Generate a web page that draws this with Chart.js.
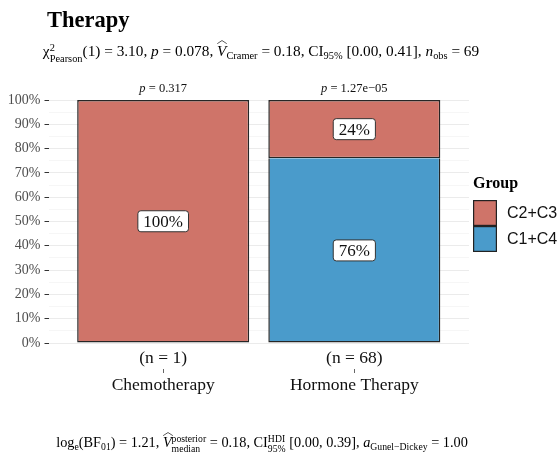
<!DOCTYPE html>
<html>
<head>
<meta charset="utf-8">
<script src="https://cdn.jsdelivr.net/npm/chart.js@4.4.1/dist/chart.umd.min.js"></script>
<style>
  html, body { margin: 0; padding: 0; background: #fff; }
  #wrap { position: relative; width: 559px; height: 456px; overflow: hidden;
          font-family: "Liberation Serif", "Times New Roman", serif; color: #000; }
  #wrap canvas { position: absolute; left: 0; top: 0; }
  .txt { position: absolute; white-space: nowrap; }
  #title { left: 47px; top: 9px; font-size: 22.5px; font-weight: bold; line-height: 1; }
  #sub { left: 0; width: 522px; text-align: center; top: 43px; font-size: 15.3px; line-height: 1; }
  #cap { left: 0; width: 524px; text-align: center; top: 434px; font-size: 14.3px; line-height: 1; }
  .ss { display: inline-flex; flex-direction: column; font-size: 0.68em; line-height: 1.05;
        vertical-align: 0.5em; text-align: left; }
  .sb { font-size: 0.68em; vertical-align: -0.28em; }
  i { font-style: italic; }
  .hat { position: relative; display: inline-block; font-style: italic; }
  .hat::before { content: ""; position: absolute; left: 0; right: -1px; top: -0.2em; height: 0.28em;
                 background: url("data:image/svg+xml;utf8,<svg xmlns='http://www.w3.org/2000/svg' viewBox='0 0 20 6' preserveAspectRatio='none'><polyline points='0.5,5.5 10,0.8 19.5,5.5' fill='none' stroke='black' stroke-width='1.1'/></svg>") no-repeat center / 100% 100%; }
</style>
</head>
<body>
<div id="wrap">
  <canvas id="c" width="559" height="456"></canvas>
  <div class="txt" id="title">Therapy</div>
  <div class="txt" id="sub">χ<span class="ss"><span>2</span><span>Pearson</span></span>(1) = 3.10, <i>p</i> = 0.078, <span class="hat">V</span><span class="sb">Cramer</span> = 0.18, CI<span class="sb">95%</span> [0.00, 0.41], <i>n</i><span class="sb">obs</span> = 69</div>
  <div class="txt" id="cap">log<span class="sb">e</span>(BF<span class="sb">01</span>) = 1.21, <span class="hat">V</span><span class="ss"><span>posterior</span><span>median</span></span> = 0.18, CI<span class="ss"><span>HDI</span><span>95%</span></span> [0.00, 0.39], <i>a</i><span class="sb">Gunel−Dickey</span> = 1.00</div>
</div>
<script>
// Categories on the x axis, with their group sizes and per-bar test results
const therapies = ['Chemotherapy', 'Hormone Therapy'];
const groupSizes = [1, 68];
const barPValues = ['0.317', '1.27e−05'];

// Percentage of each group within a therapy (stack order: bottom first)
const groups = ['C1+C4', 'C2+C3'];
const pctC1C4 = [0, 76];
const pctC2C3 = [100, 24];

// Y axis tick values (percent)
const yTicks = [0, 10, 20, 30, 40, 50, 60, 70, 80, 90, 100];

const RED = '#CF7469';
const BLUE = '#4A9BCB';
const SERIF = '"Liberation Serif", "Times New Roman", serif';

const xPos = therapies.map((_, i) => i + 1);
const toPoints = arr => arr.map((v, i) => ({ x: xPos[i], y: v }));

// Draws the percentage boxes, the per-bar p values and the group sizes
const annotations = {
  id: 'annotations',
  afterDatasetsDraw(chart) {
    const ctx = chart.ctx;
    const area = chart.chartArea;
    const xs = chart.scales.x;
    ctx.save();
    chart.data.datasets.forEach((ds, di) => {
      const meta = chart.getDatasetMeta(di);
      meta.data.forEach((bar, i) => {
        const v = ds.data[i].y;
        if (!v) return;
        const cy = (bar.y + bar.base) / 2;
        const label = v + '%';
        ctx.font = '17px ' + SERIF;
        const w = ctx.measureText(label).width + 11;
        const h = 21;
        ctx.beginPath();
        ctx.roundRect(bar.x - w / 2, cy - h / 2, w, h, 3);
        ctx.fillStyle = '#fff';
        ctx.fill();
        ctx.lineWidth = 1;
        ctx.strokeStyle = '#333';
        ctx.stroke();
        ctx.fillStyle = '#111';
        ctx.textAlign = 'center';
        ctx.textBaseline = 'middle';
        ctx.fillText(label, bar.x, cy + 1);
      });
    });

    therapies.forEach((t, i) => {
      const x = xs.getPixelForValue(xPos[i]);
      // p value above the bar
      ctx.textBaseline = 'alphabetic';
      ctx.textAlign = 'left';
      ctx.font = 'italic 12.5px ' + SERIF;
      const pw = ctx.measureText('p').width;
      ctx.font = '12.5px ' + SERIF;
      const rest = ' = ' + barPValues[i];
      const rw = ctx.measureText(rest).width;
      const x0 = x - (pw + rw) / 2;
      ctx.fillStyle = '#111';
      ctx.font = 'italic 12.5px ' + SERIF;
      ctx.fillText('p', x0, area.top - 8.5);
      ctx.font = '12.5px ' + SERIF;
      ctx.fillText(rest, x0 + pw, area.top - 8.5);

      // group size below the bar
      ctx.textAlign = 'center';
      ctx.font = '17.5px ' + SERIF;
      ctx.fillText('(n = ' + groupSizes[i] + ')', x, area.bottom + 20);

      // small axis tick between the two label lines
      ctx.strokeStyle = '#666';
      ctx.lineWidth = 1;
      ctx.beginPath();
      ctx.moveTo(Math.round(x) + 0.5, area.bottom + 26);
      ctx.lineTo(Math.round(x) + 0.5, area.bottom + 30);
      ctx.stroke();
    });
    ctx.restore();
  }
};

// Legend on the right: title and square keys
const groupLegend = {
  id: 'groupLegend',
  afterDraw(chart) {
    const ctx = chart.ctx;
    const area = chart.chartArea;
    const x = area.right + 4;
    ctx.save();
    ctx.fillStyle = '#000';
    ctx.textAlign = 'left';
    ctx.textBaseline = 'alphabetic';
    ctx.font = 'bold 16px ' + SERIF;
    ctx.fillText('Group', x, 188);
    const items = [
      { label: groups[1], color: RED },
      { label: groups[0], color: BLUE }
    ];
    items.forEach((it, k) => {
      const y = 200 + k * 26;
      ctx.fillStyle = it.color;
      ctx.fillRect(x, y, 24, 26);
      ctx.strokeStyle = '#222';
      ctx.lineWidth = 1.2;
      ctx.strokeRect(x + 0.6, y + 0.6, 22.8, 24.8);
      ctx.fillStyle = '#111';
      ctx.textBaseline = 'middle';
      ctx.font = '16px "Liberation Sans", Arial, sans-serif';
      ctx.fillText(it.label, x + 34, y + 13.5);
    });
    ctx.restore();
  }
};

new Chart(document.getElementById('c'), {
  type: 'bar',
  data: {
    datasets: [
      // top edge left to the segment stacked above, so the join is a single line
      { label: groups[0], data: toPoints(pctC1C4), backgroundColor: BLUE, borderSkipped: 'end' },
      { label: groups[1], data: toPoints(pctC2C3), backgroundColor: RED, borderSkipped: false }
    ]
  },
  options: {
    responsive: false,
    animation: false,
    devicePixelRatio: 1,
    layout: { padding: { top: 100, right: 90, bottom: 0, left: 0 } },
    datasets: {
      bar: {
        borderColor: '#262626',
        borderWidth: 1.5,
        barPercentage: 0.9,
        categoryPercentage: 1.0
      }
    },
    plugins: { legend: { display: false }, tooltip: { enabled: false } },
    scales: {
      x: {
        type: 'linear',
        stacked: true,
        offset: false,
        bounds: 'ticks',
        min: 0.4,
        max: 2.6,
        afterDataLimits(scale) { scale.min = 0.4; scale.max = 2.6; },
        afterBuildTicks(scale) { scale.ticks = xPos.map(v => ({ value: v })); },
        afterFit(scale) { scale.height = 113; },
        border: { display: false },
        grid: { display: false, drawTicks: false, offset: false },
        ticks: {
          autoSkip: false,
          maxRotation: 0,
          padding: 32,
          color: '#111',
          font: { family: SERIF, size: 17.5 },
          callback: v => therapies[v - 1] || ''
        }
      },
      y: {
        stacked: true,
        min: 0,
        max: 100,
        afterBuildTicks(scale) {
          const t = [];
          for (let v = 0; v <= 100; v += 5) t.push({ value: v });
          scale.ticks = t;
        },
        afterFit(scale) { scale.width = 48.5; },
        border: { display: false },
        grid: {
          color: c => (c.tick && c.tick.value % 10 === 0) ? '#ebebeb' : '#f6f6f6',
          tickColor: c => (c.tick && c.tick.value % 10 === 0) ? '#333' : 'rgba(0,0,0,0)',
          tickLength: 4,
          lineWidth: 1
        },
        ticks: {
          autoSkip: false,
          padding: 4,
          color: '#4d4d4d',
          font: { family: SERIF, size: 14 },
          callback: v => yTicks.includes(v) ? v + '%' : ''
        }
      }
    }
  },
  plugins: [annotations, groupLegend]
});
</script>
</body>
</html>
